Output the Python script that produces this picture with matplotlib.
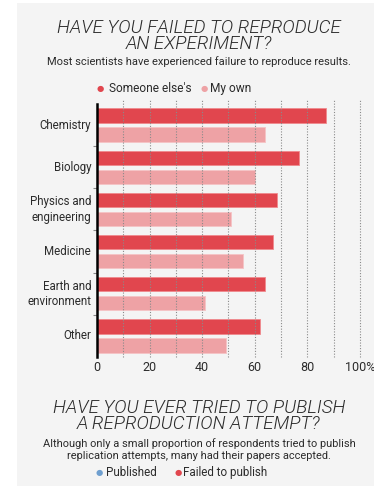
import numpy as np
import matplotlib.pyplot as plt
from matplotlib.patches import Rectangle

# Data
fields = ['Chemistry', 'Biology', 'Physics and\nengineering', 'Medicine',
          'Earth and\nenvironment', 'Other']
someone_else = [87, 77, 68.5, 67, 64, 62]
my_own = [64, 60, 51, 55.5, 41, 49]
x_ticks = [0, 20, 40, 60, 80, 100]
x_tick_labels = ['0', '20', '40', '60', '80', '100%']

dark = '#e1464e'
light = '#eea2a5'
txt = '#2b2b2b'
body = 'Roboto'
cx = 199 / 374  # text block centre

fig = plt.figure(figsize=(3.74, 4.86), dpi=100)
fig.patch.set_facecolor('white')

# light grey panel behind everything
bg = Rectangle((17 / 374, 0), 1 - 17 / 374, 1 - 3 / 486, transform=fig.transFigure,
               facecolor='#f4f4f4', linewidth=0, zorder=-10)
fig.patches.append(bg)

ax = fig.add_axes([97 / 374, 1 - 357 / 486, 273.5 / 374, 253 / 486])
ax.set_facecolor('none')

y = np.arange(len(fields)) + 0.5
ax.barh(y - 0.225, someone_else, height=0.34, color=dark, edgecolor='#ef8a8e',
        linewidth=0.6, zorder=3)
ax.barh(y + 0.225, my_own, height=0.34, color=light, edgecolor='#f5c3c5',
        linewidth=0.6, zorder=3)

ax.set_xlim(0, 104)
ax.set_ylim(len(fields), 0)

for g in range(10, 101, 10):
    ax.axvline(g, ymin=0, ymax=1.015, color='#8a8a8a', lw=0.8, ls=(0, (1, 1.5)),
               zorder=4, clip_on=False)

for s in ['top', 'right', 'bottom']:
    ax.spines[s].set_visible(False)
ax.spines['left'].set_color('black')
ax.spines['left'].set_linewidth(1.8)
ax.spines['left'].set_zorder(5)

ax.set_xticks(x_ticks)
ax.set_xticklabels(x_tick_labels, fontsize=9, color=txt, family=body)
ax.tick_params(axis='x', length=0, pad=3)

ax.set_yticks(np.arange(1, len(fields)))
ax.set_yticklabels([])
ax.tick_params(axis='y', length=3, width=0.8, color='#888888')
for i, f in enumerate(fields):
    ax.text(-2.2, y[i], f, ha='right', va='center', fontsize=8.3, color=txt,
            family=body, linespacing=1.25)

# Titles
title_kw = dict(ha='center', va='center', fontsize=13.5, style='italic', fontweight=300,
                color=txt, family='Roboto', linespacing=0.9)
fig.text(cx, 1 - 36 / 486, 'HAVE YOU FAILED TO REPRODUCE\nAN EXPERIMENT?', **title_kw)
fig.text(cx, 1 - 62 / 486, 'Most scientists have experienced failure to reproduce results.',
         ha='center', va='center', fontsize=8, color=txt, family=body)

fig.text(100 / 374, 1 - 88 / 486, '\u25cf', ha='center', va='center', fontsize=6, color=dark)
fig.text(109 / 374, 1 - 88 / 486, "Someone else's", ha='left', va='center', fontsize=8.6,
         color=txt, family=body)
fig.text(204 / 374, 1 - 88 / 486, '\u25cf', ha='center', va='center', fontsize=6, color=light)
fig.text(210 / 374, 1 - 88 / 486, 'My own', ha='left', va='center', fontsize=8.6,
         color=txt, family=body)

fig.text(cx, 1 - 416 / 486, 'HAVE YOU EVER TRIED TO PUBLISH\nA REPRODUCTION ATTEMPT?',
         **title_kw)
fig.text(cx, 1 - 449.5 / 486,
         'Although only a small proportion of respondents tried to publish\n'
         'replication attempts, many had their papers accepted.',
         ha='center', va='center', fontsize=7.9, color=txt, family=body, linespacing=1.15)

fig.text(99 / 374, 1 - 472 / 486, '\u25cf', ha='center', va='center', fontsize=6,
         color='#6f9fcf')
fig.text(106 / 374, 1 - 472 / 486, 'Published', ha='left', va='center', fontsize=8.4,
         color=txt, family=body)
fig.text(178 / 374, 1 - 472 / 486, '\u25cf', ha='center', va='center', fontsize=6, color=dark)
fig.text(183 / 374, 1 - 472 / 486, 'Failed to publish', ha='left', va='center', fontsize=8.4,
         color=txt, family=body)

fig.savefig('out.png', dpi=100)
